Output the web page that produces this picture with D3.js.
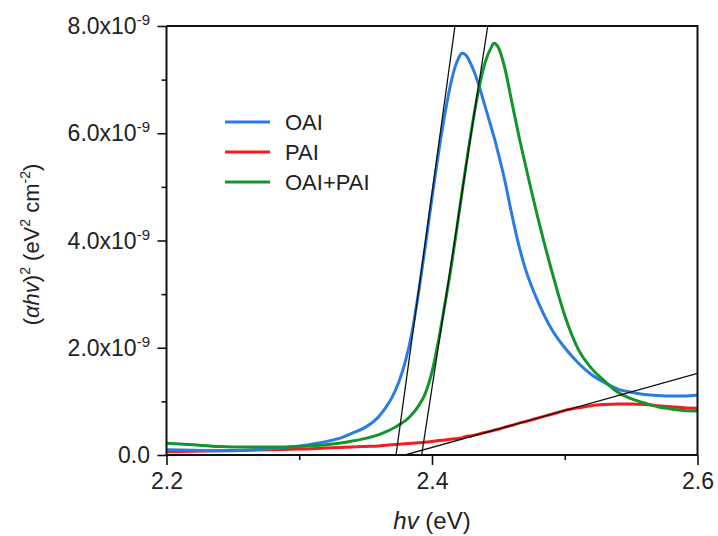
<!DOCTYPE html>
<html>
<head>
<meta charset="utf-8">
<script src="https://cdn.jsdelivr.net/npm/d3@7"></script>
<style>
  html, body { margin: 0; padding: 0; background: #fff; }
  svg { display: block; font-family: "Liberation Sans", Arial, sans-serif; }
</style>
</head>
<body>
<svg id="chart" width="718" height="536"></svg>
<script>
// Photon energy grid (eV)
const energy = [2.20, 2.22, 2.24, 2.26, 2.28, 2.30, 2.32, 2.33, 2.34, 2.35, 2.36, 2.365,
  2.37, 2.375, 2.38, 2.385, 2.39, 2.395, 2.40, 2.405, 2.41, 2.415, 2.42, 2.4225, 2.425,
  2.43, 2.435, 2.44, 2.445, 2.4465, 2.45, 2.455, 2.46, 2.465, 2.47, 2.48, 2.49, 2.50,
  2.51, 2.52, 2.53, 2.54, 2.55, 2.56, 2.57, 2.58, 2.59, 2.60];

// (αhν)² in units of 1e-9 eV² cm⁻²
const oai = [0.10, 0.09, 0.08, 0.09, 0.12, 0.17, 0.25, 0.31, 0.41, 0.52, 0.72, 0.88,
  1.08, 1.36, 1.75, 2.30, 3.05, 3.90, 4.80, 5.65, 6.40, 7.02, 7.40, 7.49, 7.47,
  7.25, 6.92, 6.50, 6.08, 5.95, 5.62, 5.10, 4.50, 3.95, 3.50, 2.85, 2.35, 2.00,
  1.72, 1.50, 1.35, 1.23, 1.17, 1.13, 1.11, 1.10, 1.10, 1.12];

const pai = [0.06, 0.07, 0.08, 0.09, 0.10, 0.11, 0.13, 0.14, 0.15, 0.16, 0.17, 0.18,
  0.19, 0.20, 0.21, 0.22, 0.23, 0.24, 0.25, 0.27, 0.28, 0.30, 0.31, 0.32, 0.34,
  0.36, 0.39, 0.42, 0.45, 0.46, 0.48, 0.52, 0.55, 0.59, 0.62, 0.69, 0.76, 0.83,
  0.88, 0.92, 0.94, 0.95, 0.95, 0.94, 0.92, 0.90, 0.88, 0.87];

const oaiPai = [0.22, 0.19, 0.16, 0.15, 0.15, 0.16, 0.19, 0.22, 0.26, 0.31, 0.38, 0.43,
  0.49, 0.56, 0.64, 0.76, 0.92, 1.15, 1.55, 2.15, 2.85, 3.60, 4.45, 4.88, 5.30,
  6.10, 6.80, 7.32, 7.62, 7.68, 7.60, 7.20, 6.60, 6.00, 5.45, 4.40, 3.45, 2.60,
  1.98, 1.62, 1.38, 1.17, 1.05, 0.97, 0.90, 0.86, 0.83, 0.82];

const seriesNames = ["OAI", "PAI", "OAI+PAI"];
const seriesColors = ["#2b7be4", "#f41c1c", "#12952a"];

// Linear fits used for the band-gap extrapolation: [energy, value] end points
const fitOAI = [[2.3729, 0], [2.4173, 8]];
const fitOAIPAI = [[2.3922, 0], [2.4420, 8]];
const fitPAI = [[2.3797, 0], [2.60, 1.52]];

const xTicks = [2.2, 2.4, 2.6];
const xMinorTicks = [2.3, 2.5];
const yTicks = [0, 2, 4, 6, 8];
const yMinorTicks = [1, 3, 5, 7];
const yTickMantissa = ["0.0", "2.0", "4.0", "6.0", "8.0"];

const svg = d3.select("#chart");
const margin = { left: 166.5, right: 20.5, top: 26, bottom: 81 };
const W = 718, H = 536;
const x = d3.scaleLinear().domain([2.2, 2.6]).range([margin.left, W - margin.right]);
const y = d3.scaleLinear().domain([0, 8]).range([H - margin.bottom, margin.top]);

svg.append("defs").append("clipPath").attr("id", "plot-clip")
  .append("rect")
  .attr("x", x(2.2)).attr("y", y(8))
  .attr("width", x(2.6) - x(2.2)).attr("height", y(0) - y(8));

const plot = svg.append("g").attr("clip-path", "url(#plot-clip)");

const line = d3.line()
  .x(d => x(d[0]))
  .y(d => y(d[1]))
  .curve(d3.curveMonotoneX);

const seriesValues = [oai, pai, oaiPai];
// draw order: PAI, OAI, OAI+PAI on top
[1, 0, 2].forEach(i => {
  plot.append("path")
    .datum(energy.map((e, k) => [e, seriesValues[i][k]]))
    .attr("fill", "none")
    .attr("stroke", seriesColors[i])
    .attr("stroke-width", 3)
    .attr("stroke-linejoin", "round")
    .attr("d", line);
});

const straight = d3.line().x(d => x(d[0])).y(d => y(d[1]));
[fitOAI, fitOAIPAI, fitPAI].forEach(f => {
  plot.append("path")
    .datum(f)
    .attr("fill", "none")
    .attr("stroke", "#111")
    .attr("stroke-width", 1.3)
    .attr("d", straight);
});

// Axes
const axisColor = "#111";
const xAxis = svg.append("g")
  .attr("transform", `translate(0,${y(0)})`)
  .call(d3.axisBottom(x).tickValues(xTicks).tickSize(10).tickPadding(8)
    .tickFormat(d3.format(".1f")));
svg.append("g")
  .attr("transform", `translate(0,${y(0)})`)
  .call(d3.axisBottom(x).tickValues(xMinorTicks).tickSize(5).tickFormat(""))
  .call(g => g.select(".domain").remove());

const yAxis = svg.append("g")
  .attr("transform", `translate(${x(2.2)},0)`)
  .call(d3.axisLeft(y).tickValues(yTicks).tickSize(9).tickFormat(""));
svg.append("g")
  .attr("transform", `translate(${x(2.2)},0)`)
  .call(d3.axisLeft(y).tickValues(yMinorTicks).tickSize(5).tickFormat(""))
  .call(g => g.select(".domain").remove());

svg.selectAll(".domain").attr("stroke", axisColor).attr("stroke-width", 2);
svg.selectAll(".tick line").attr("stroke", axisColor).attr("stroke-width", 1.6);
xAxis.selectAll(".domain").attr("d", `M${x(2.2)},0H${x(2.6)}`);
yAxis.selectAll(".domain").attr("d", `M0,${y(0)}V${y(8)}`);

xAxis.selectAll(".tick text")
  .attr("fill", "#222")
  .attr("font-size", 23)
  .attr("font-family", "Liberation Sans, Arial, sans-serif");

// y tick labels with scientific notation
yTicks.forEach((v, i) => {
  const t = svg.append("text")
    .attr("x", 150)
    .attr("y", y(v) + 8)
    .attr("text-anchor", "end")
    .attr("fill", "#222")
    .attr("font-size", 23);
  if (v === 0) {
    t.text(yTickMantissa[i]);
  } else {
    t.append("tspan").text(yTickMantissa[i] + "x10");
    t.append("tspan").attr("font-size", 15).attr("dy", -9).text("-9");
  }
});

// Frame (top and right)
svg.append("path")
  .attr("d", `M${x(2.2)},${y(8)}H${x(2.6)}V${y(0)}`)
  .attr("fill", "none")
  .attr("stroke", axisColor)
  .attr("stroke-width", 2);

// Axis titles
const xt = svg.append("text")
  .attr("x", (x(2.2) + x(2.6)) / 2)
  .attr("y", 529)
  .attr("text-anchor", "middle")
  .attr("fill", "#222")
  .attr("font-size", 24);
xt.append("tspan").attr("font-style", "italic").text("hv");
xt.append("tspan").text(" (eV)");

const yt = svg.append("text")
  .attr("transform", `translate(39,${(y(0) + y(8)) / 2 + 4}) rotate(-90)`)
  .attr("text-anchor", "middle")
  .attr("fill", "#222")
  .attr("font-size", 22);
yt.append("tspan").text("(");
yt.append("tspan").attr("font-style", "italic").text("αhv");
yt.append("tspan").text(")");
yt.append("tspan").attr("font-size", 14).attr("dy", -9).text("2");
yt.append("tspan").attr("dy", 9).text(" (eV");
yt.append("tspan").attr("font-size", 14).attr("dy", -9).text("2");
yt.append("tspan").attr("dy", 9).text(" cm");
yt.append("tspan").attr("font-size", 14).attr("dy", -9).text("-2");
yt.append("tspan").attr("dy", 9).text(")");

// Legend
const legend = svg.append("g");
seriesNames.forEach((name, i) => {
  const ly = 122 + i * 30;
  legend.append("line")
    .attr("x1", 225).attr("x2", 270)
    .attr("y1", ly).attr("y2", ly)
    .attr("stroke", seriesColors[i])
    .attr("stroke-width", 3);
  legend.append("text")
    .attr("x", 285).attr("y", ly + 7.5)
    .attr("fill", "#222")
    .attr("font-size", 22)
    .text(name);
});
</script>
</body>
</html>
